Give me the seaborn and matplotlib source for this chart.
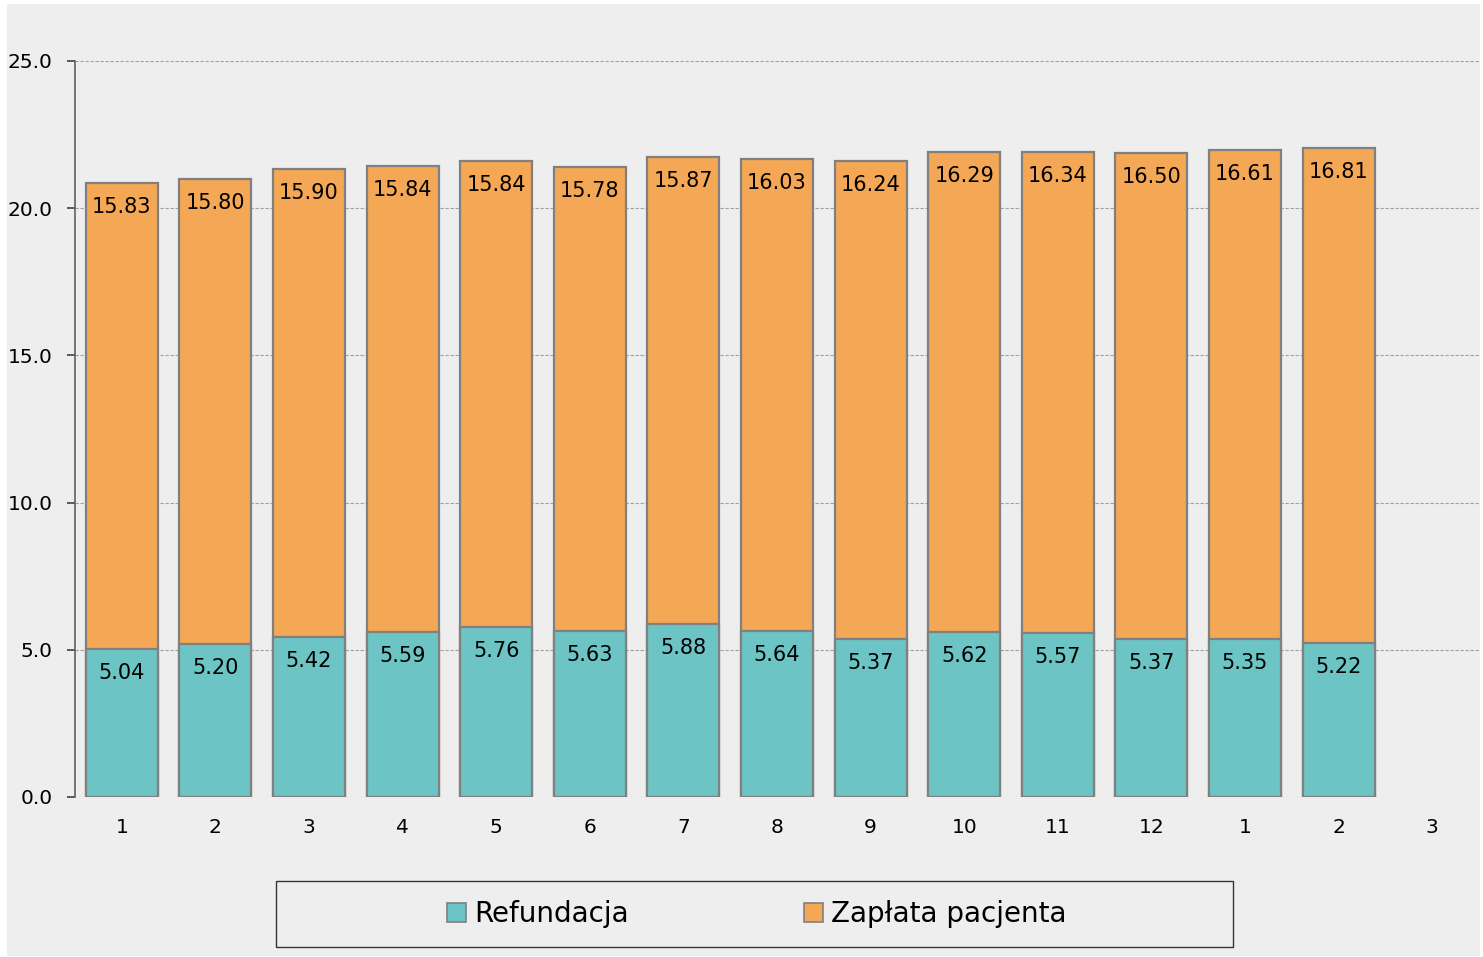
import matplotlib
matplotlib.use("Agg")
import matplotlib.pyplot as plt
from matplotlib.patches import Rectangle, Patch
import seaborn as sns
import pandas as pd
import numpy as np

# ---- data ----
month_labels = ["1", "2", "3", "4", "5", "6", "7", "8", "9", "10", "11", "12", "1", "2", "3"]
refundacja = [5.04, 5.20, 5.42, 5.59, 5.76, 5.63, 5.88, 5.64, 5.37, 5.62, 5.57, 5.37, 5.35, 5.22]
zaplata = [15.83, 15.80, 15.90, 15.84, 15.84, 15.78, 15.87, 16.03, 16.24, 16.29, 16.34, 16.50, 16.61, 16.81]
series_names = ["Refundacja", "Zapłata pacjenta"]
y_ticks = [0, 5, 10, 15, 20, 25]

# ---- style ----
BG = "#eeeeee"
TEAL = "#6cc4c4"
ORANGE = "#f4a755"
EDGE = "#808080"
plt.rcParams["font.family"] = ["DejaVu Sans"]

df = pd.DataFrame({
    "pos": list(range(len(refundacja))),
    "ref": refundacja,
    "pay": zaplata,
})
df["total"] = df["ref"] + df["pay"]
order = list(range(len(month_labels)))

fig = plt.figure(figsize=(14.83, 9.57), dpi=100, facecolor="white")
fig.patches.append(Rectangle((7 / 1483, 1 - 956 / 957), (1480 - 7) / 1483, (956 - 4) / 957,
                             transform=fig.transFigure, facecolor=BG, edgecolor="none", zorder=-10))
ax = fig.add_axes([75 / 1483, 1 - 797 / 957, (1479 - 75) / 1483, (797 - 61) / 957])
ax.set_facecolor(BG)

sns.barplot(data=df, x="pos", y="total", order=order, color=ORANGE, saturation=1,
            width=0.77, edgecolor=EDGE, linewidth=1.6, ax=ax, zorder=3)
sns.barplot(data=df, x="pos", y="ref", order=order, color=TEAL, saturation=1,
            width=0.77, edgecolor=EDGE, linewidth=1.6, ax=ax, zorder=4)

for i in range(len(refundacja)):
    ax.annotate(f"{refundacja[i]:.2f}", xy=(i, refundacja[i]), xytext=(0, -24),
                textcoords="offset pixels", ha="center", va="center", fontsize=15, zorder=5)
    tot = refundacja[i] + zaplata[i]
    ax.annotate(f"{zaplata[i]:.2f}", xy=(i, tot), xytext=(0, -24),
                textcoords="offset pixels", ha="center", va="center", fontsize=15, zorder=5)

ax.set_ylim(0, 25)
ax.set_xlim(-0.5, len(month_labels) - 0.5)
ax.set_yticks(y_ticks)
ax.set_yticklabels([f"{v:.1f}" for v in y_ticks])
ax.set_xticks(order)
ax.set_xticklabels(month_labels)
ax.set_xlabel("")
ax.set_ylabel("")

ax.yaxis.grid(True, linestyle=(0, (3, 1.5)), color="#a0a0a0", linewidth=0.8, zorder=0)
ax.set_axisbelow(True)
for s in ["top", "right", "bottom"]:
    ax.spines[s].set_visible(False)
ax.spines["left"].set_color("#606060")
ax.spines["left"].set_linewidth(1.2)
ax.spines["left"].set_zorder(6)
ax.tick_params(axis="y", length=6, width=1.2, color="#404040", pad=10, labelsize=14.5)
ax.tick_params(axis="x", length=0, pad=15, labelsize=14.5)

# legend box
fig.patches.append(Rectangle((276 / 1483, 1 - 947 / 957), (1233 - 276) / 1483, (947 - 881) / 957,
                             transform=fig.transFigure, facecolor="none", edgecolor="#333333",
                             linewidth=1.0, zorder=5))
handles = [Patch(facecolor=TEAL, edgecolor=EDGE, linewidth=1.2),
           Patch(facecolor=ORANGE, edgecolor=EDGE, linewidth=1.2)]
fig.legend(handles, series_names, loc="center", bbox_to_anchor=(757 / 1483, 1 - 914 / 957),
           ncol=2, frameon=False, fontsize=20, handlelength=0.68, handleheight=0.68,
           handletextpad=0.3, columnspacing=6.3)

fig.savefig("out.png", dpi=100, facecolor="white")
